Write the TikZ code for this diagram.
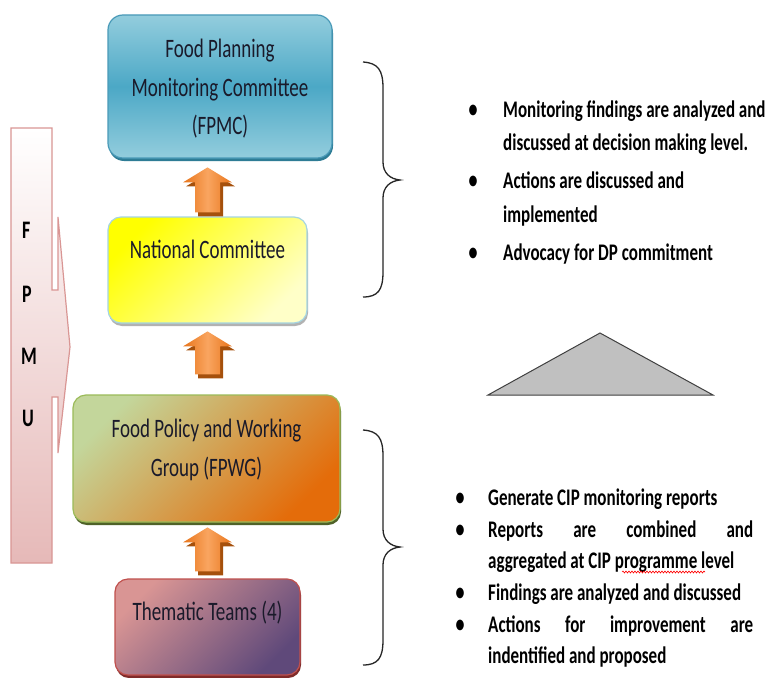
\documentclass[tikz,border=0pt]{standalone}
\usepackage{fontspec}
\usepackage{graphicx}
\setmainfont{Carlito}
\usetikzlibrary{shadows,decorations.pathmorphing,calc}
\definecolor{fpmcTop}{HTML}{93CDDD}
\definecolor{fpmcMid}{HTML}{4BA8C6}
\definecolor{fpmcLine}{HTML}{4A9AB8}
\definecolor{fpmcShadow}{HTML}{2E7C95}
\definecolor{natlTL}{HTML}{FFFF00}
\definecolor{natlBR}{HTML}{FFFFC8}
\definecolor{natlLine}{HTML}{A5D5E2}
\definecolor{fpwgTL}{HTML}{C3D69B}
\definecolor{fpwgBR}{HTML}{E46C0A}
\definecolor{fpwgLine}{HTML}{9BBB59}
\definecolor{fpwgShadow}{HTML}{4F6228}
\definecolor{themTL}{HTML}{D99594}
\definecolor{themBR}{HTML}{5F497A}
\definecolor{themLine}{HTML}{C0504D}
\definecolor{themShadow}{HTML}{7F2B2A}
\definecolor{fpmuB}{HTML}{E6B9B8}
\definecolor{fpmuLine}{HTML}{D99694}
\definecolor{orL}{HTML}{F9A560}
\definecolor{orD}{HTML}{E8741A}
\definecolor{orShadow}{HTML}{A5500C}
\definecolor{triFill}{HTML}{C0C0C0}
\definecolor{txt}{HTML}{1A1A2A}
\newcommand\tl[1]{\scalebox{1}[1.4]{#1}}
\begin{document}
\begin{tikzpicture}[x=1pt,y=-1pt,
  box/.style={rounded corners=13pt, line width=1.2pt, inner sep=0pt},
  boxtext/.style={anchor=base, inner sep=0pt, font=\fontsize{19}{23}\selectfont, text=txt},
  listtext/.style={anchor=base west, inner sep=0pt, font=\bfseries\fontsize{17}{20}\selectfont, text=black},
  bulletmark/.style={anchor=base, inner sep=0pt, font=\bfseries\fontsize{18}{20}\selectfont, text=black},
  fpmuletter/.style={anchor=base west, inner sep=0pt, font=\bfseries\fontsize{18}{20}\selectfont, text=black},
  uparrow/.style={left color=orD, right color=orD, middle color=orL, draw=none,
     drop shadow={shadow xshift=3pt, shadow yshift=-4pt, fill=orShadow, opacity=1}},
  bracket/.style={draw=black!85, line width=1.3pt},
]
\useasboundingbox (0,0) rectangle (770,677);
\fill[white] (0,0) rectangle (770,677);

% FPMU arrow
\draw[top color=white, bottom color=fpmuB, draw=fpmuLine, line width=1.2pt]
  (11,128) -- (52,128) -- (52,290) -- (58,290) -- (58,217) -- (70,347) -- (58,453)
  -- (58,397) -- (52,397) -- (52,563) -- (11,563) -- cycle;
\node[fpmuletter] (lf) at (22,238) {\tl{F}};
\node[fpmuletter] (lp) at (22,302) {\tl{P}};
\node[fpmuletter] (lm) at (21,364) {\tl{M}};
\node[fpmuletter] (lu) at (22,426) {\tl{U}};

% boxes
\node[box, minimum width=224pt, minimum height=143pt, rounded corners=15pt,
  top color=fpmcTop, bottom color=fpmcTop, middle color=fpmcMid, draw=fpmcLine,
  drop shadow={shadow xshift=1pt, shadow yshift=-3pt, fill=fpmcShadow, opacity=1}]
  (fpmc) at (220,86.5) {};
\node[boxtext] (fpmc1) at (220,57) {\tl{Food Planning}};
\node[boxtext] (fpmc2) at (220,96) {\tl{Monitoring Committee}};
\node[boxtext] (fpmc3) at (220,134) {\tl{(FPMC)}};

\node[box, minimum width=199pt, minimum height=106pt,
  top color=natlTL, bottom color=natlBR, shading angle=45, draw=natlLine,
  drop shadow={shadow xshift=1pt, shadow yshift=-3pt, fill=black!30, opacity=1}]
  (natl) at (207.5,270) {};
\node[boxtext] (natlt) at (207.5,258) {\tl{National Committee}};

\node[box, minimum width=267pt, minimum height=127pt,
  top color=fpwgTL, bottom color=fpwgBR, shading angle=45, draw=fpwgLine,
  drop shadow={shadow xshift=1pt, shadow yshift=-3pt, fill=fpwgShadow, opacity=1}]
  (fpwg) at (206.5,458.5) {};
\node[boxtext] (fpwg1) at (206.5,437) {\tl{Food Policy and Working}};
\node[boxtext] (fpwg2) at (206.5,476) {\tl{Group (FPWG)}};

\node[box, minimum width=185pt, minimum height=96pt,
  top color=themTL, bottom color=themBR, shading angle=45, draw=themLine,
  drop shadow={shadow xshift=1pt, shadow yshift=-3pt, fill=themShadow, opacity=1}]
  (them) at (207.5,627) {};
\node[boxtext] (themt) at (207.5,620) {\tl{Thematic Teams (4)}};

% block arrows
\draw[uparrow] ($(natl.north)+(-12.5,-4)$) -- ++(0,-30) -- ++(-12,0) -- ++(24.5,-15)
  -- ++(24.5,15) -- ++(-12,0) -- ++(0,30) -- cycle;
\draw[uparrow] ($(fpwg.north)+(-11.5,-20)$) -- ++(0,-28) -- ++(-12,0) -- ++(24.5,-15)
  -- ++(24.5,15) -- ++(-12,0) -- ++(0,28) -- cycle;
\draw[uparrow] ($(them.north)+(-12.5,-7)$) -- ++(0,-29) -- ++(-12,0) -- ++(24.5,-15)
  -- ++(24.5,15) -- ++(-12,0) -- ++(0,29) -- cycle;

% braces
\draw[bracket] (363,62) .. controls (378,63) and (383,70) .. (383,88) -- (383,162)
  .. controls (383,173) and (390,179) .. (400,180)
  .. controls (390,181) and (383,187) .. (383,198) -- (383,272)
  .. controls (383,290) and (378,297) .. (363,297);
\draw[bracket] (363,430) .. controls (378,431) and (383,438) .. (383,456) -- (383,529)
  .. controls (383,540) and (390,546) .. (400,547)
  .. controls (390,548) and (383,554) .. (383,565) -- (383,640)
  .. controls (383,658) and (378,665) .. (363,665);

% top list
\node[bulletmark] (b1) at (473,117) {\tl{•}};
\node[listtext] (t1a) at (503,117) {\tl{Monitoring findings are analyzed and}};
\node[listtext] (t1b) at (503,150) {\tl{discussed at decision making level.}};
\node[bulletmark] (b2) at (473,188) {\tl{•}};
\node[listtext] (t2a) at (503,188) {\tl{Actions are discussed and}};
\node[listtext] (t2b) at (503,222) {\tl{implemented}};
\node[bulletmark] (b3) at (473,260) {\tl{•}};
\node[listtext] (t3) at (503,260) {\tl{Advocacy for DP commitment}};

% triangle
\draw[fill=triFill, draw=black!75, line width=1pt] (600,333) -- (713,395) -- (488,395) -- cycle;

% bottom list
\node[bulletmark] (c1) at (460,505) {\tl{•}};
\node[listtext] (u1) at (488,505) {\tl{Generate CIP monitoring reports}};
\node[bulletmark] (c2) at (460,537) {\tl{•}};
\node[listtext] (u2a) at (488,537) {\tl{\makebox[265pt][l]{Reports\hfill are\hfill combined\hfill and}}};
\node[listtext] (u2b) at (488,568) {\tl{aggregated at CIP programme level}};
\node[bulletmark] (c3) at (460,600) {\tl{•}};
\node[listtext] (u3) at (488,600) {\tl{Findings are analyzed and discussed}};
\node[bulletmark] (c4) at (460,632) {\tl{•}};
\node[listtext] (u4a) at (488,632) {\tl{\makebox[265pt][l]{Actions\hfill for\hfill improvement\hfill are}}};
\node[listtext] (u4b) at (488,663) {\tl{indentified and proposed}};
\draw[red, line width=0.6pt, decorate, decoration={snake, amplitude=1pt, segment length=3pt}]
  (622,572) -- (705,572);
\end{tikzpicture}
\end{document}
